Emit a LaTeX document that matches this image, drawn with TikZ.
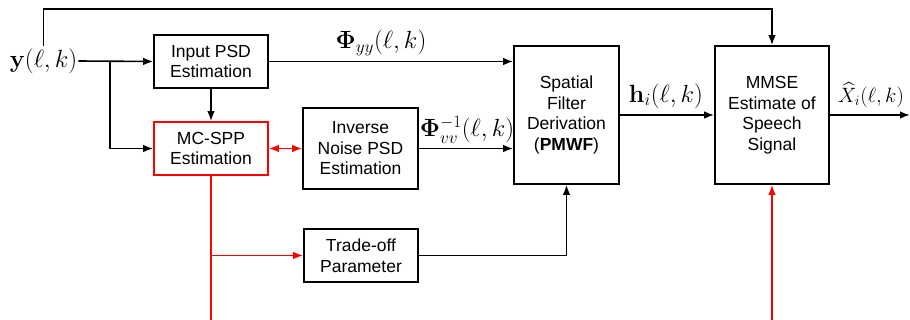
\documentclass[tikz,border=0pt]{standalone}
\usepackage{amsmath}
\usepackage[no-math]{fontspec}
\setmainfont{Liberation Sans}
\usetikzlibrary{arrows.meta}
\begin{document}
\begin{tikzpicture}[x=1pt,y=-1pt,
  blk/.style={draw,line width=1.6pt,align=center,inner sep=0pt,
    font=\fontsize{17.5}{20.5}\selectfont},
  redblk/.style={blk,draw=red},
  tip/.tip={Latex[length=10pt,width=7.5pt]},
  arr/.style={line width=1.6pt,-tip},
  ln/.style={line width=1.6pt},
  rarr/.style={arr,red},
  lbl/.style={inner sep=0pt,font=\fontsize{23}{26}\selectfont}]
\useasboundingbox (0,0) rectangle (910,320);
\node[blk,minimum width=114pt,minimum height=53pt] (inpsd) at (211,61.5) {Input PSD\\Estimation};
\node[redblk,minimum width=114pt,minimum height=53pt] (mcspp) at (211,148.5) {MC-SPP\\Estimation};
\node[blk,minimum width=115pt,minimum height=81pt] (invn) at (360.5,148.5) {Inverse\\Noise PSD\\Estimation};
\node[blk,minimum width=114pt,minimum height=53pt] (trade) at (361,255.5) {Trade-off\\Parameter};
\node[blk,minimum width=105pt,minimum height=138pt] (spatial) at (566.5,115) {Spatial\\Filter\\Derivation\\(\textbf{PMWF})};
\node[blk,minimum width=114pt,minimum height=138pt] (mmse) at (772,115) {MMSE\\Estimate of\\Speech\\Signal};
\node[lbl,inner xsep=1pt,inner ysep=2pt] (ylab) at (43.5,61) {$\mathbf{y}(\ell,k)$};
\node[lbl] (phiyy) at (381,43) {$\mathbf{\Phi}_{yy}(\ell,k)$};
\node[lbl] (phivv) at (467,130) {$\mathbf{\Phi}_{vv}^{-1}(\ell,k)$};
\node[lbl] (hlab) at (666,96) {$\mathbf{h}_i(\ell,k)$};
\node[lbl,font=\fontsize{21}{24}\selectfont] (xlab) at (871,95) {$\widehat{X}_{i}(\ell,k)$};
\coordinate (topc) at (772,9);
\coordinate (split) at (110,61);
\coordinate (bot1) at (211,320);
\coordinate (bot2) at (772,320);
\coordinate (outc) at (910,115);
% black connectors
\draw[arr] (ylab.east) -- (inpsd.west);
\draw[arr] (split) |- (mcspp.west);
\draw[arr] (ylab.north) |- (topc) -- (mmse.north);
\draw[arr] (inpsd.south) -- (mcspp.north);
\draw[arr] (inpsd.east) -- (inpsd.east -| spatial.west);
\draw[arr] (invn.east) -- (invn.east -| spatial.west);
\draw[arr] (trade.east) -| (spatial.south);
\draw[arr] (spatial.east) -- (mmse.west);
\draw[arr] (mmse.east) -- (outc);
% red connectors
\draw[ln,red] (mcspp.south) -- (bot1);
\draw[rarr] (mcspp.south |- trade.west) -- (trade.west);
\draw[line width=1.6pt,red,tip-tip] (mcspp.east) -- (invn.west);
\draw[rarr] (bot2) -- (mmse.south);
\end{tikzpicture}
\end{document}
